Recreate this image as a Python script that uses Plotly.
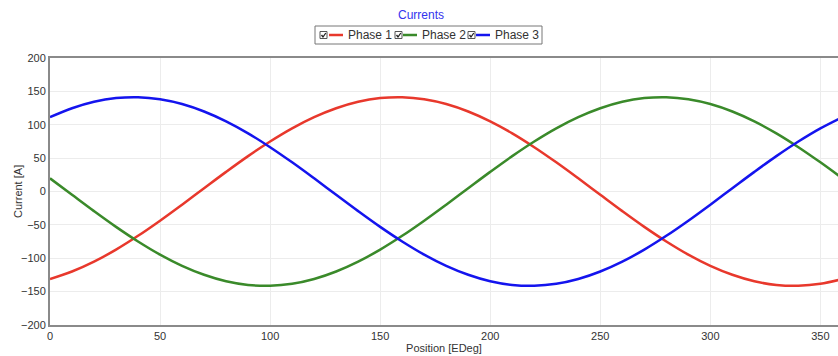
import plotly.graph_objects as go

position = list(range(0, 370, 10))
phase1 = [-131.1, -119.9, -105.1, -87.1, -66.4, -43.7, -19.7, 4.9, 29.4, 53.0, 74.9, 94.6,
          111.4, 124.8, 134.5, 140.0, 141.3, 138.3, 131.1, 119.9, 105.1, 87.1, 66.4, 43.7,
          19.7, -4.9, -29.4, -53.0, -74.9, -94.6, -111.4, -124.8, -134.5, -140.0, -141.3,
          -138.3, -131.1]
phase2 = [19.7, -4.9, -29.4, -53.0, -74.9, -94.6, -111.4, -124.8, -134.5, -140.0, -141.3,
          -138.3, -131.1, -119.9, -105.1, -87.1, -66.4, -43.7, -19.7, 4.9, 29.4, 53.0, 74.9,
          94.6, 111.4, 124.8, 134.5, 140.0, 141.3, 138.3, 131.1, 119.9, 105.1, 87.1, 66.4,
          43.7, 19.7]
phase3 = [111.4, 124.8, 134.5, 140.0, 141.3, 138.3, 131.1, 119.9, 105.1, 87.1, 66.4, 43.7,
          19.7, -4.9, -29.4, -53.0, -74.9, -94.6, -111.4, -124.8, -134.5, -140.0, -141.3,
          -138.3, -131.1, -119.9, -105.1, -87.1, -66.4, -43.7, -19.7, 4.9, 29.4, 53.0, 74.9,
          94.6, 111.4]
series_names = ["Phase 1", "Phase 2", "Phase 3"]
series_colors = ["#e8382c", "#3a8a2a", "#1414ee"]

W, H = 838, 356
L, R, T, B = 50, 0, 58, 31
PW, PH = W - L - R, H - T - B


def px(p):
    return (p - L) / PW


def py(p):
    return (H - B - p) / PH


fig = go.Figure()
for name, vals, col in zip(series_names, [phase1, phase2, phase3], series_colors):
    fig.add_trace(go.Scatter(x=position, y=vals, mode="lines", name=name,
                             line=dict(color=col, width=2.5, shape="spline"),
                             showlegend=False))

shapes = []
annotations = []
# legend box
shapes.append(dict(type="rect", xref="paper", yref="paper", x0=px(315), x1=px(542),
                   y0=py(44), y1=py(26), line=dict(color="#777777", width=1),
                   fillcolor="white", layer="above"))
cb_x = [320, 395, 468]
ln_x = [329, 403, 476]
tx_x = [346, 420, 493]
cy = 35
for i, name in enumerate(series_names):
    c = cb_x[i]
    shapes.append(dict(type="rect", xref="paper", yref="paper", x0=px(c), x1=px(c + 7),
                       y0=py(cy + 3.5), y1=py(cy - 3.5), line=dict(color="#555555", width=1),
                       fillcolor="white", layer="above"))
    shapes.append(dict(type="path", xref="paper", yref="paper",
                       path=f"M {px(c+1.5)} {py(cy)} L {px(c+3)} {py(cy+2)} L {px(c+5.8)} {py(cy-2)}",
                       line=dict(color="#222222", width=1.3), layer="above"))
    shapes.append(dict(type="line", xref="paper", yref="paper", x0=px(ln_x[i]), x1=px(ln_x[i] + 14),
                       y0=py(cy), y1=py(cy), line=dict(color=series_colors[i], width=2.5),
                       layer="above"))
    annotations.append(dict(text=name, xref="paper", yref="paper", x=px(tx_x[i]), y=py(cy),
                            xanchor="left", yanchor="middle", showarrow=False,
                            font=dict(size=12, color="#333333")))

annotations.append(dict(text="Currents", xref="paper", yref="paper", x=px(421), y=py(15),
                        xanchor="center", yanchor="middle", showarrow=False,
                        font=dict(size=12, color="#3333ee")))
annotations.append(dict(text="Current [A]", xref="paper", yref="paper", x=px(18), y=py(192),
                        xanchor="center", yanchor="middle", showarrow=False, textangle=-90,
                        font=dict(size=11, color="#333333")))

fig.update_layout(
    width=W, height=H,
    margin=dict(l=L, r=R, t=T, b=B, pad=0),
    paper_bgcolor="white", plot_bgcolor="white",
    font=dict(family="Liberation Sans, Arial, sans-serif", size=11, color="#333333"),
    shapes=shapes, annotations=annotations,
    showlegend=False,
)
fig.update_xaxes(range=[0, 358], dtick=50, tick0=0, showgrid=True, gridcolor="#ececec",
                 gridwidth=1, showline=True, linecolor="#8a8a8a", linewidth=2, mirror=True,
                 zeroline=False, ticks="", automargin=False, ticklabelstandoff=0,
                 tickfont=dict(size=11, color="#333333"),
                 title=dict(text="Position [EDeg]", standoff=0, font=dict(size=11, color="#333333")))
fig.update_yaxes(range=[-200, 200], dtick=50, tick0=0, showgrid=True, gridcolor="#ececec",
                 gridwidth=1, showline=True, linecolor="#8a8a8a", linewidth=2,
                 zeroline=False, ticks="", automargin=False,
                 tickfont=dict(size=11, color="#333333"))

fig.write_html("out.html", config={"displayModeBar": False},
               post_script="document.body.style.margin='0';document.body.style.overflow='hidden';")
